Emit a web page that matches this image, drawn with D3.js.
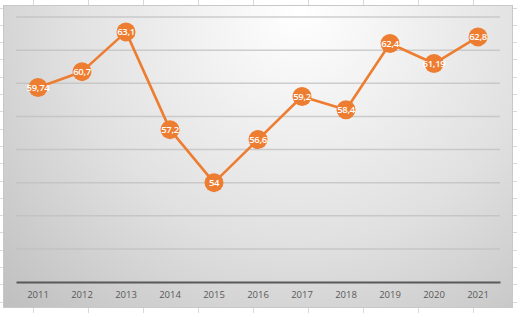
<!DOCTYPE html>
<html>
<head>
<meta charset="utf-8">
<script src="https://cdn.jsdelivr.net/npm/d3@7"></script>
<style>
  html, body { margin: 0; padding: 0; background: #fff; overflow: hidden; }
  svg { display: block; }
</style>
</head>
<body>
<div id="chart"></div>
<script>
// 图表尺寸
const width = 517;
const height = 313;

// 数据
const years = ["2011", "2012", "2013", "2014", "2015", "2016", "2017", "2018", "2019", "2020", "2021"];
const values = [59.74, 60.7, 63.1, 57.2, 54, 56.6, 59.2, 58.4, 62.4, 61.19, 62.8];
const labels = ["59,74", "60,7", "63,1", "57,2", "54", "56,6", "59,2", "58,4", "62,4", "61,19", "62,8"];
const yTicks = [50, 52, 54, 56, 58, 60, 62, 64];

const orange = "#ed7d31";

const svg = d3.select("#chart")
    .append("svg")
    .attr("width", width)
    .attr("height", height);

// 背景里的表格线
const cellGrid = svg.append("g").attr("class", "cells");
d3.range(-22, width, 55).forEach(x => {
    cellGrid.append("line")
        .attr("x1", x + 0.5).attr("x2", x + 0.5)
        .attr("y1", 0).attr("y2", height)
        .attr("stroke", "#d9d9d9");
});
d3.range(7.5, height, 17.3).forEach(y => {
    cellGrid.append("line")
        .attr("x1", 0).attr("x2", width)
        .attr("y1", Math.round(y) + 0.5).attr("y2", Math.round(y) + 0.5)
        .attr("stroke", "#d9d9d9");
});

// 图表区渐变
const defs = svg.append("defs");
const grad = defs.append("radialGradient")
    .attr("id", "bg")
    .attr("gradientUnits", "userSpaceOnUse")
    .attr("cx", 300).attr("cy", 10).attr("r", 430);
grad.append("stop").attr("offset", "0%").attr("stop-color", "#ffffff");
grad.append("stop").attr("offset", "55%").attr("stop-color", "#e0e0e0");
grad.append("stop").attr("offset", "100%").attr("stop-color", "#bdbdbd");

svg.append("rect")
    .attr("x", 3.5).attr("y", 5.5)
    .attr("width", 509).attr("height", 302)
    .attr("fill", "url(#bg)")
    .attr("stroke", "#c8c8c8");

// 比例尺
const x = d3.scaleBand()
    .domain(years)
    .range([16, 500]);

const y = d3.scaleLinear()
    .domain([48, 64])
    .range([282, 17]);

// 网格线
svg.append("g")
    .selectAll("line")
    .data(yTicks)
    .enter()
    .append("line")
    .attr("x1", 16).attr("x2", 500)
    .attr("y1", d => y(d)).attr("y2", d => y(d))
    .attr("stroke", "#bfbfbf")
    .attr("stroke-opacity", 0.75)
    .attr("stroke-width", 1.5);

// x 轴
const xAxis = d3.axisBottom(x).tickSize(0).tickPadding(9);
const gx = svg.append("g")
    .attr("transform", `translate(0, ${y(48)})`)
    .call(xAxis);
gx.select(".domain")
    .attr("stroke", "#595959")
    .attr("stroke-width", 2.2);
gx.selectAll("text")
    .attr("fill", "#595959")
    .style("font-family", "'Open Sans', 'Liberation Sans', sans-serif")
    .style("font-size", "9.5px");

// 折线
const line = d3.line()
    .x((d, i) => x(years[i]) + x.bandwidth() / 2)
    .y(d => y(d));

svg.append("path")
    .datum(values)
    .attr("d", line)
    .attr("fill", "none")
    .attr("stroke", orange)
    .attr("stroke-width", 2.6)
    .attr("stroke-linejoin", "round");

// 数据点
const pts = svg.append("g")
    .selectAll("g")
    .data(values)
    .enter()
    .append("g")
    .attr("transform", (d, i) => `translate(${x(years[i]) + x.bandwidth() / 2}, ${y(d)})`);

pts.append("circle")
    .attr("r", 9.5)
    .attr("fill", orange);

pts.append("text")
    .attr("text-anchor", "middle")
    .attr("dy", "0.35em")
    .attr("fill", "#fff")
    .style("font-family", "'Open Sans', 'Liberation Sans', sans-serif")
    .style("font-size", "9.5px")
    .style("font-weight", "600")
    .style("letter-spacing", "-0.3px")
    .text((d, i) => labels[i]);
</script>
</body>
</html>
